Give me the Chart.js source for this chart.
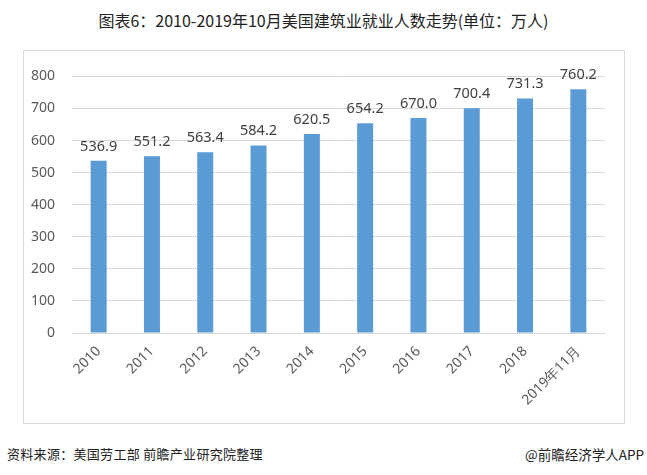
<!DOCTYPE html>
<html><head><meta charset="utf-8">
<script src="https://cdn.jsdelivr.net/npm/chart.js@4/dist/chart.umd.min.js"></script>
<style>
html,body{margin:0;padding:0;background:#fff;width:647px;height:475px;overflow:hidden;font-family:"Noto Sans CJK SC",sans-serif;}
#title{position:absolute;left:0;top:8px;width:647px;text-align:center;font-size:16px;color:#222;line-height:24px;}
#frame{position:absolute;left:23px;top:50px;width:600px;height:372px;border:1px solid #d9d9d9;}
#src{position:absolute;left:7px;top:444px;font-size:13px;color:#222;letter-spacing:0.3px;}
#app{position:absolute;right:3px;top:444px;font-size:13.5px;color:#222;}
</style></head><body>
<div id="title">图表6：2010-2019年10月美国建筑业就业人数走势(单位：万人)</div>
<div id="frame"><canvas id="c" width="600" height="372"></canvas></div>
<div id="src">资料来源：美国劳工部 前瞻产业研究院整理</div>
<div id="app">@前瞻经济学人APP</div>
<script>
const categories = ["2010","2011","2012","2013","2014","2015","2016","2017","2018","2019年11月"];
const employment = [536.9,551.2,563.4,584.2,620.5,654.2,670.0,700.4,731.3,760.2];
const yTicks = [0,100,200,300,400,500,600,700,800];

const labelPlugin = {
  id:'vals',
  afterDatasetsDraw(chart){
    const ctx = chart.ctx;
    const meta = chart.getDatasetMeta(0);
    ctx.save();
    ctx.font = '14.5px "Noto Sans", sans-serif';
    ctx.fillStyle = '#404040';
    ctx.textAlign = 'center';
    ctx.textBaseline = 'bottom';
    meta.data.forEach((bar,i)=>{
      ctx.fillText(employment[i].toFixed(1), bar.x, bar.y - 7);
    });
    ctx.restore();
  }
};

new Chart(document.getElementById('c'),{
  type:'bar',
  data:{labels:categories,datasets:[{data:employment,backgroundColor:'#5b9bd5',barPercentage:0.6,categoryPercentage:0.5}]},
  options:{
    responsive:false,animation:false,
    layout:{padding:{top:19,right:19,left:0,bottom:0}},
    plugins:{legend:{display:false},tooltip:{enabled:false},title:{display:false}},
    scales:{
      x:{
        grid:{display:false},
        border:{color:'#d9d9d9'},
        ticks:{color:'#595959',font:{size:14,family:'"Noto Sans", sans-serif'},minRotation:45,maxRotation:45,padding:2},
        afterFit(s){s.height=90;}
      },
      y:{
        min:0,max:800,
        afterBuildTicks(s){s.ticks=yTicks.map(v=>({value:v}));},
        grid:{color:'#d9d9d9',drawTicks:false},
        border:{display:false},
        ticks:{color:'#595959',font:{size:14,family:'"Noto Sans", sans-serif'},padding:17},
        afterFit(s){s.width=48;}
      }
    }
  },
  plugins:[labelPlugin]
});
</script>
</body></html>
